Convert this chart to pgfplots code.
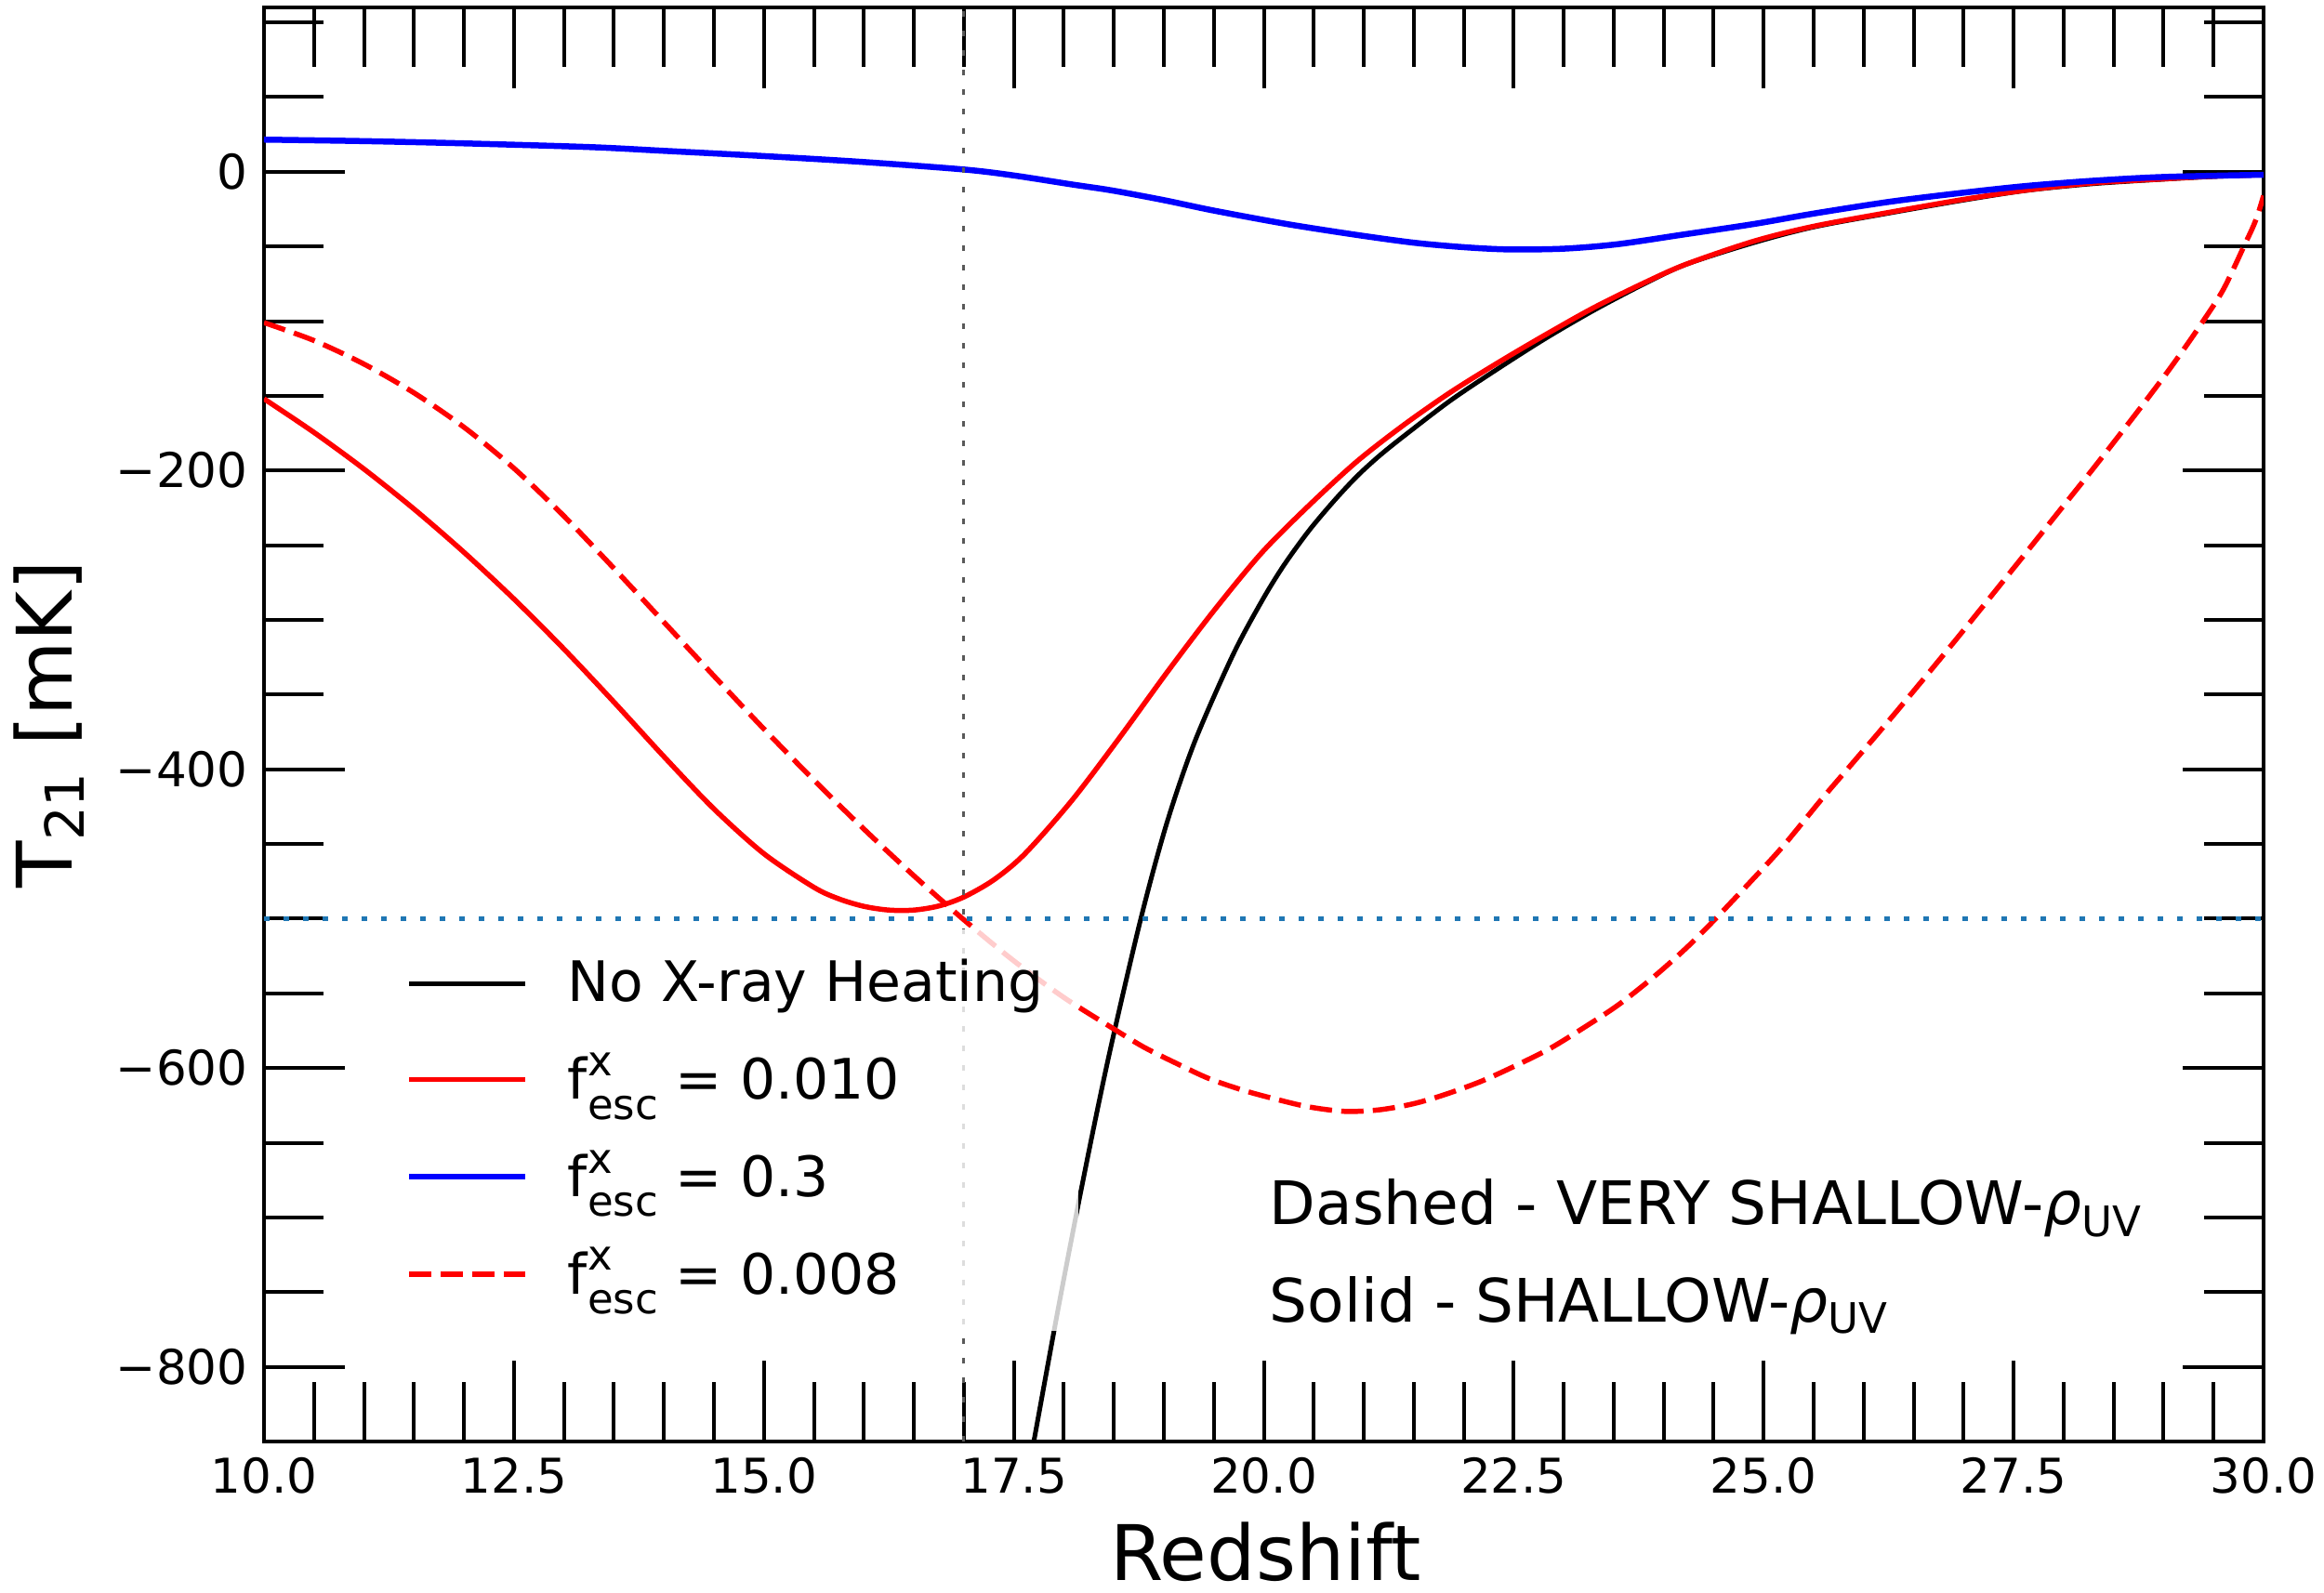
\documentclass[border=0pt]{standalone}
\usepackage{fontspec}
\setmainfont{DejaVu Sans}
\usepackage{pgfplots}
\pgfplotsset{compat=1.18}
\definecolor{tabblue}{HTML}{1F77B4}

% brightness temperature curves, T21 [mK] vs redshift
\pgfplotstableread{
z T
17.70 -850
17.95 -758.75
18.20 -672.5
18.45 -592
18.77 -500
19.03 -436
19.31 -381.4
19.69 -323.6
19.98 -287.4
20.20 -263.5
20.45 -240.4
20.70 -220.5
20.93 -204
21.15 -190.5
21.40 -177
21.87 -153
22.35 -131.5
22.82 -111.5
23.30 -92.8
23.80 -75.2
24.22 -62.1
24.90 -47.5
25.50 -37
26.27 -27.5
27.00 -19
27.63 -12.5
28.30 -8
29.00 -5
29.50 -3.2
30.00 -2
}\noheat

\pgfplotstableread{
z T
10.00 -152
10.50 -174.5
11.00 -199
11.50 -225.75
12.00 -254.75
12.50 -286
13.00 -319.5
13.50 -355
14.00 -391.5
14.50 -426.5
15.00 -456.5
15.50 -479
15.75 -486.75
16.00 -491.75
16.25 -494.25
16.50 -494.25
16.75 -491.5
17.00 -485.5
17.30 -474
17.61 -456.6
18.08 -420.9
18.55 -379.5
19.03 -335.3
19.50 -293.9
19.98 -255
20.45 -223.5
20.93 -194
21.40 -169.5
21.87 -147.5
22.35 -127.5
22.82 -109
23.30 -91
23.80 -74.5
24.22 -62
24.90 -46.5
25.50 -36.5
26.27 -27
27.00 -18.5
27.63 -12.3
28.30 -7.5
29.00 -4.8
29.50 -3
30.00 -2
}\fescA

\pgfplotstableread{
z T
10.00 21.5
11.00 20.5
12.00 19
13.26 16.5
14.00 14
15.00 10.5
16.00 6.5
17.00 1.5
17.50 -2.5
18.08 -8.5
18.48 -12.5
19.00 -19
19.50 -26
20.23 -35
20.93 -42.3
21.50 -47.5
22.00 -50.5
22.45 -52
23.00 -51.5
23.54 -48.5
24.20 -42
24.90 -35
25.50 -28
26.27 -20
27.00 -14
27.63 -9.5
28.30 -6
29.00 -3.5
30.00 -2
}\fescB

\pgfplotstableread{
z T
10.00 -101
10.50 -113
11.00 -128.75
11.50 -148
12.00 -171
12.50 -198.5
13.00 -230.5
13.50 -265.5
14.00 -301.5
14.50 -337.5
15.00 -373
15.50 -407.25
16.00 -440
16.50 -471.25
17.00 -500.75
17.50 -528.25
18.00 -552.75
18.48 -573
18.80 -586
19.13 -597
19.45 -607
19.80 -615
20.13 -621
20.45 -626
20.81 -629
21.15 -628
21.49 -624
21.80 -618
22.17 -609
22.50 -599
22.86 -587
23.20 -573
23.54 -558
23.90 -539
24.22 -520
24.49 -502
24.90 -473
25.20 -451
25.58 -420
25.90 -395
26.27 -366
26.60 -339.5
26.95 -311
27.30 -282
27.63 -254.5
28.00 -223.5
28.31 -197.5
28.70 -164
29.00 -137.5
29.20 -119
29.40 -99.5
29.60 -78.5
29.81 -49
29.90 -36
29.95 -27
30.00 -16
}\fescC

\newcommand{\fesc}{f\rlap{\raisebox{0.42em}{\fontsize{9}{10}\selectfont x}}\raisebox{-0.36em}{\fontsize{9}{10}\selectfont esc}}

\begin{document}
\begin{tikzpicture}
\begin{axis}[
  name=ax,
  scale only axis,
  width=430.2pt, height=308.6pt,
  xmin=10, xmax=30, ymin=-850, ymax=110,
  axis line style={line width=0.8pt},
  xtick={10,12.5,...,30},
  xticklabels={10.0,12.5,15.0,17.5,20.0,22.5,25.0,27.5,30.0},
  minor xtick={10.5,11,...,29.5},
  ytick={-800,-600,-400,-200,0},
  yticklabels={−800,−600,−400,−200,0},
  minor ytick={-750,-700,...,100},
  tick align=inside,
  major tick length=17.4pt,
  minor tick length=12.8pt,
  every tick/.style={black, line width=0.8pt},
  tick label style={font=\fontsize{10.3}{12}\selectfont},
  xlabel={Redshift},
  ylabel={T\textsubscript{21} [mK]},
  label style={font=\fontsize{16.5}{20}\selectfont},
  xlabel style={at={(axis description cs:0.501,-0.0966)}, anchor=base},
  ylabel style={at={(axis description cs:-0.0962,0.5)}, anchor=base},
  legend cell align=left,
  legend style={
    at={(axis description cs:0.0576,0.358)}, anchor=north west,
    draw=none, fill=white, fill opacity=0.8, text opacity=1,
    font=\fontsize{12}{14}\selectfont,
    inner xsep=5.6pt, inner ysep=4.5pt, row sep=5.5pt, column sep=6.5pt,
  },
  legend image code/.code={\draw[#1] (0pt,0pt) -- (25pt,0pt);},
]
\addplot[black, line width=1pt, smooth] table[x=z,y=T] {\noheat};
\addlegendentry{No X-ray Heating}
\addplot[red, line width=1.1pt, smooth] table[x=z,y=T] {\fescA};
\addlegendentry{\fesc{} = 0.010}
\addplot[blue, line width=1.3pt, smooth] table[x=z,y=T] {\fescB};
\addlegendentry{\fesc{} = 0.3}
\addplot[red, line width=1.1pt, smooth, dash pattern=on 4.8pt off 2pt] table[x=z,y=T] {\fescC};
\addlegendentry{\fesc{} = 0.008}

\draw[tabblue, line width=1pt, dash pattern=on 1.2pt off 3pt]
  (axis cs:10,-500) -- (axis cs:30,-500);
\draw[black!65, line width=0.6pt, dash pattern=on 1.2pt off 3pt]
  (axis cs:17,-850) -- (axis cs:17,110);

\node[anchor=base west, font=\fontsize{12.9}{15}\selectfont, inner sep=0pt]
  at (axis cs:20.05,-705) {Dashed - VERY SHALLOW-{\itshape ρ}\textsubscript{UV}};
\node[anchor=base west, font=\fontsize{12.9}{15}\selectfont, inner sep=0pt]
  at (axis cs:20.05,-770) {Solid - SHALLOW-{\itshape ρ}\textsubscript{UV}};
\end{axis}
\pgfresetboundingbox
\path ([xshift=-56.8pt,yshift=-32.4pt]ax.south west) rectangle ([xshift=13pt,yshift=1.6pt]ax.north east);
\end{tikzpicture}
\end{document}
